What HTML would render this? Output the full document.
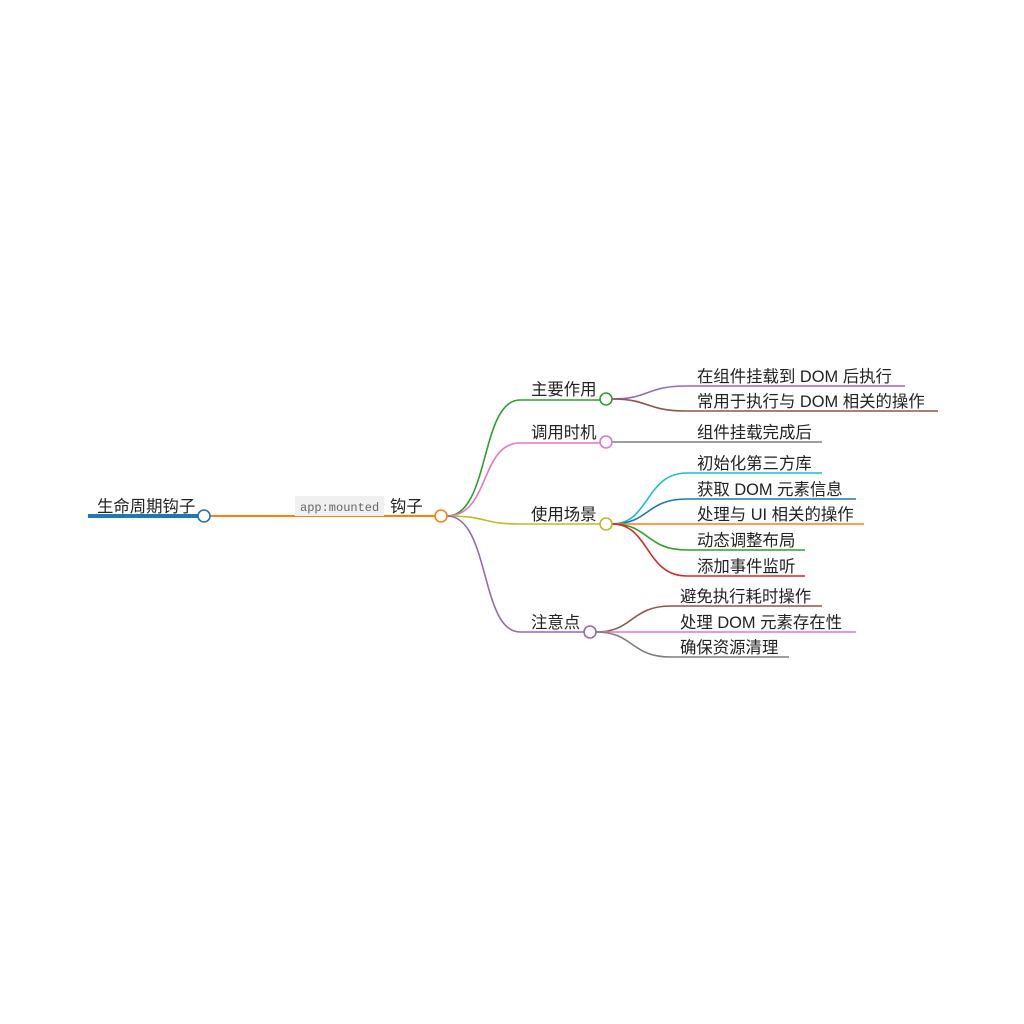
<!DOCTYPE html>
<html><head><meta charset="utf-8"><style>
html,body{margin:0;padding:0;background:#fff;width:1024px;height:1024px;overflow:hidden}
text{font-family:"Liberation Sans","Noto Sans CJK SC",sans-serif;font-size:16.4px;fill:#222}
</style></head><body>
<svg width="1024" height="1024" viewBox="0 0 1024 1024" xmlns="http://www.w3.org/2000/svg" fill="none">
<line x1="88" y1="516" x2="198" y2="516" stroke="#1f77b4" stroke-width="4"/>
<text x="97" y="512">生命周期钩子</text>
<line x1="210" y1="516" x2="435" y2="516" stroke="#ff7f0e" stroke-width="2"/>
<rect x="295" y="496" width="89" height="20" fill="#f0f0f0"/>
<text x="300" y="511" style="font-family:'Liberation Mono',monospace;font-size:12px;fill:#666">app:mounted</text>
<text x="390" y="512">钩子</text>
<path d="M447,516 C490,516 480,400 520,400 L600,400" stroke="#2ca02c" stroke-width="1.6"/>
<path d="M447,516 C490,516 480,443 520,443 L600,443" stroke="#e377c2" stroke-width="1.6"/>
<path d="M447,516 C490,516 480,524 520,524 L600,524" stroke="#bcbd22" stroke-width="1.6"/>
<path d="M447,516 C490,516 480,632 520,632 L584,632" stroke="#9467bd" stroke-width="1.6"/>
<text x="531" y="395">主要作用</text>
<text x="531" y="438">调用时机</text>
<text x="531" y="520">使用场景</text>
<text x="531" y="628">注意点</text>
<path d="M612,399 C650,399 645,386 687,386 L905,386" stroke="#9467bd" stroke-width="1.6"/>
<path d="M612,399 C650,399 645,411 687,411 L938,411" stroke="#8c564b" stroke-width="1.6"/>
<path d="M612,442 L822,442" stroke="#7f7f7f" stroke-width="1.6"/>
<path d="M612,524 C650,524 645,473 687,473 L822,473" stroke="#17becf" stroke-width="1.6"/>
<path d="M612,524 C650,524 645,499 687,499 L856,499" stroke="#1f77b4" stroke-width="1.6"/>
<path d="M612,524 L864,524" stroke="#ff7f0e" stroke-width="1.6"/>
<path d="M612,524 C650,524 645,550 687,550 L805,550" stroke="#2ca02c" stroke-width="1.6"/>
<path d="M612,524 C650,524 645,576 687,576 L805,576" stroke="#d62728" stroke-width="1.6"/>
<path d="M596,632 C634,632 630,606 671,606 L822,606" stroke="#8c564b" stroke-width="1.6"/>
<path d="M596,632 L856,632" stroke="#e377c2" stroke-width="1.6"/>
<path d="M596,632 C634,632 630,657 671,657 L789,657" stroke="#7f7f7f" stroke-width="1.6"/>
<text x="697" y="382">在组件挂载到 DOM 后执行</text>
<text x="697" y="407">常用于执行与 DOM 相关的操作</text>
<text x="697" y="438">组件挂载完成后</text>
<text x="697" y="469">初始化第三方库</text>
<text x="697" y="495">获取 DOM 元素信息</text>
<text x="697" y="520">处理与 UI 相关的操作</text>
<text x="697" y="546">动态调整布局</text>
<text x="697" y="572">添加事件监听</text>
<text x="680" y="602">避免执行耗时操作</text>
<text x="680" y="628">处理 DOM 元素存在性</text>
<text x="680" y="653">确保资源清理</text>
<circle cx="204" cy="516" r="6" fill="#fff" stroke="#1f77b4" stroke-width="1.6"/>
<circle cx="441" cy="516" r="6" fill="#fff" stroke="#ff7f0e" stroke-width="1.6"/>
<circle cx="606" cy="399" r="6" fill="#fff" stroke="#2ca02c" stroke-width="1.6"/>
<circle cx="606" cy="442" r="6" fill="#fff" stroke="#e377c2" stroke-width="1.6"/>
<circle cx="606" cy="524" r="6" fill="#fff" stroke="#bcbd22" stroke-width="1.6"/>
<circle cx="590" cy="632" r="6" fill="#fff" stroke="#9467bd" stroke-width="1.6"/>
</svg>
</body></html>
